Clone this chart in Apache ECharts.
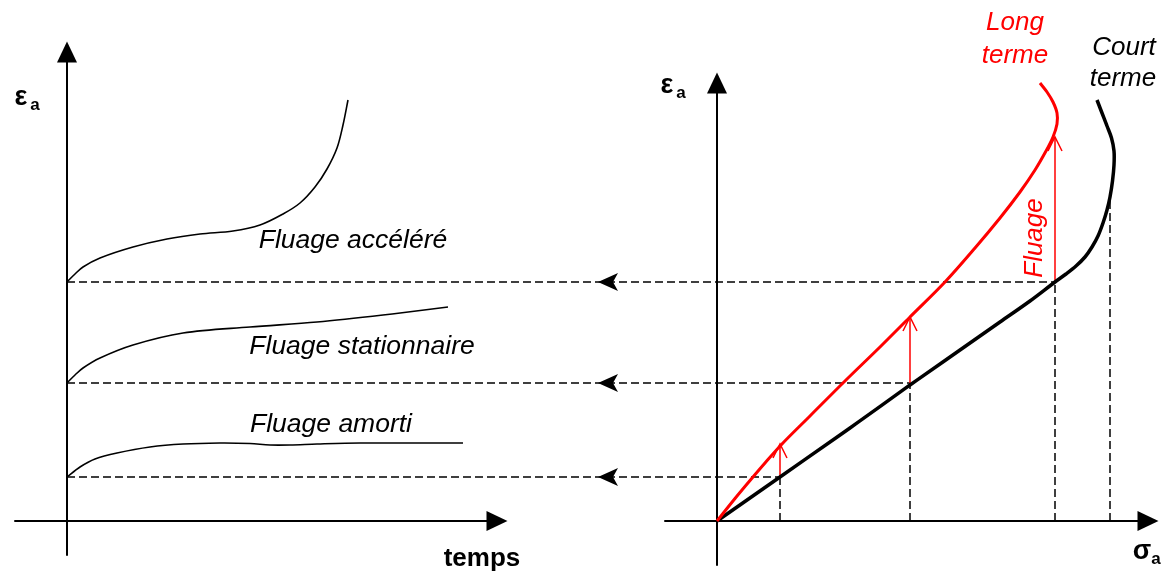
<!DOCTYPE html>
<html><head><meta charset="utf-8">
<script src="https://cdn.jsdelivr.net/npm/echarts@6/dist/echarts.min.js"></script>
<style>html,body{margin:0;padding:0;background:#fff}#c{width:1164px;height:571px}</style>
</head><body><div id="c"></div>
<script>
// ---- Data (arbitrary units) ----
// strain levels (εa) of the three creep tests
const strainLevels = [4.4, 13.8, 23.9];
// stress (σa) applied for each test (meets short-term curve)
const testStress = [6.3, 19.3, 33.8];
// long-term strain reached at each test stress
const longTermStrain = [7.7, 20.4, 38.4];
// short-term failure point (dashed vertical)
const ruptureStress = 39.3;
const ruptureStrain = 32.4;

// left panel: strain vs time
const amortiT = [0, 1.3, 2.8, 5.0, 8.3, 11.6, 15.3, 18.3, 20.3, 22.3, 25.0, 29.3, 39.6];
const amortiE = [4.4, 5.4, 6.2, 6.8, 7.4, 7.7, 7.8, 7.75, 7.6, 7.6, 7.7, 7.8, 7.8];
const stationT = [0, 0.8, 1.6, 3.3, 6.6, 11.6, 18.3, 25.0, 31.6, 38.1];
const stationE = [13.8, 14.6, 15.3, 16.3, 17.6, 18.8, 19.4, 19.9, 20.6, 21.4];
const accelT = [0, 0.8, 1.6, 3.3, 6.6, 10.0, 13.3, 16.6, 19.3, 21.6, 23.3, 24.8, 26.0, 27.0, 27.6, 28.1];
const accelE = [23.9, 24.7, 25.4, 26.3, 27.4, 28.2, 28.7, 29.0, 29.6, 30.7, 31.8, 33.4, 35.2, 37.3, 39.6, 42.1];

// right panel: strain vs stress
const courtS = [0, 6.3, 13.3, 19.3, 24.3, 28.3, 31.3, 33.8, 34.9, 35.9, 36.8, 37.5, 38.1, 38.6, 39.0, 39.3, 39.55, 39.7, 39.7, 39.45, 39.0, 38.5, 38.0];
const courtE = [0, 4.4, 9.3, 13.6, 17.1, 19.9, 22.0, 23.9, 24.7, 25.5, 26.4, 27.4, 28.5, 29.8, 31.1, 32.4, 34.0, 35.6, 37.0, 38.3, 39.5, 40.8, 42.1];
const longS = [0, 1.8, 3.3, 4.8, 6.5, 9.3, 12.8, 16.3, 19.3, 22.8, 25.8, 28.3, 30.3, 31.8, 32.9, 33.6, 34.0, 34.0, 33.6, 33.0, 32.3];
const longE = [0, 2.25, 4.05, 5.8, 7.7, 10.5, 14.0, 17.4, 20.4, 23.9, 27.3, 30.3, 32.9, 35.1, 37.0, 38.4, 39.7, 40.8, 41.9, 42.9, 43.8];

// ---- Chart ----
const FONT = '"Liberation Sans", Arial, sans-serif';
const chart = echarts.init(document.getElementById('c'), null, { renderer: 'canvas' });

const axisBase = {
  type: 'value', axisTick: { show: false }, axisLabel: { show: false }, splitLine: { show: false },
  axisLine: { show: true, onZero: true, symbol: ['none', 'triangle'], symbolSize: [20, 21],
    lineStyle: { color: '#000', width: 2 } }
};

// smooth path through pixel points (chord-length Hermite)
function splinePath(pts) {
  const n = pts.length, tan = [];
  for (let i = 0; i < n; i++) {
    const a = pts[Math.max(i - 1, 0)], b = pts[Math.min(i + 1, n - 1)];
    const dx = b[0] - a[0], dy = b[1] - a[1], l = Math.hypot(dx, dy) || 1;
    tan.push([dx / l, dy / l]);
  }
  let d = 'M' + pts[0][0] + ',' + pts[0][1];
  for (let i = 0; i < n - 1; i++) {
    const p = pts[i], q = pts[i + 1], L = Math.hypot(q[0] - p[0], q[1] - p[1]) / 3;
    d += ' C' + (p[0] + tan[i][0] * L) + ',' + (p[1] + tan[i][1] * L) + ' ' +
      (q[0] - tan[i + 1][0] * L) + ',' + (q[1] - tan[i + 1][1] * L) + ' ' + q[0] + ',' + q[1];
  }
  return d;
}
const curve = (xs, ys, gi, color, width) => ({
  type: 'custom', xAxisIndex: gi, yAxisIndex: gi, z: 4, clip: false,
  data: xs.map((x, i) => [x, ys[i]]),
  renderItem: (params, api) => {
    if (params.dataIndex !== 0) return null;
    const pts = xs.map((x, i) => api.coord([x, ys[i]]));
    return { type: 'path', shape: { pathData: splinePath(pts) },
      style: { stroke: color, lineWidth: width, fill: null, lineJoin: 'round', lineCap: 'butt' } };
  }
});

chart.setOption({
  animation: false,
  backgroundColor: '#fff',
  grid: [
    { left: 15, top: 52, width: 482, height: 503 },
    { left: 665, top: 83, width: 483, height: 482 }
  ],
  xAxis: [
    Object.assign({}, axisBase, { gridIndex: 0, min: -5.2, max: 43.0 }),
    Object.assign({}, axisBase, { gridIndex: 1, min: -5.2, max: 43.1 })
  ],
  yAxis: [
    Object.assign({}, axisBase, { gridIndex: 0, min: -3.4, max: 46.9 }),
    Object.assign({}, axisBase, { gridIndex: 1, min: -4.4, max: 43.8 })
  ],
  series: [
    curve(amortiT, amortiE, 0, '#000', 1.6),
    curve(stationT, stationE, 0, '#000', 1.6),
    curve(accelT, accelE, 0, '#000', 1.6),
    curve(courtS, courtE, 1, '#000', 3.5),
    curve(longS, longE, 1, '#ff0000', 3),
    { // dashed verticals on the stress axis
      type: 'custom', xAxisIndex: 1, yAxisIndex: 1, z: 2,
      data: testStress.map((s, i) => [s, strainLevels[i]]).concat([[ruptureStress, ruptureStrain]]),
      renderItem: (p, api) => {
        const a = api.coord([api.value(0), 0]);
        const b = api.coord([api.value(0), api.value(1)]);
        return { type: 'line', shape: { x1: a[0], y1: a[1], x2: b[0], y2: b[1] },
          style: { stroke: '#000', lineWidth: 1.5, lineDash: [8, 4] } };
      }
    },
    { // red creep arrows
      type: 'custom', xAxisIndex: 1, yAxisIndex: 1, z: 3,
      data: testStress.map((s, i) => [s, strainLevels[i], longTermStrain[i]]),
      renderItem: (p, api) => {
        const a = api.coord([api.value(0), api.value(1)]);
        const b = api.coord([api.value(0), api.value(2)]);
        return { type: 'group', children: [
          { type: 'line', shape: { x1: a[0], y1: a[1], x2: b[0], y2: b[1] },
            style: { stroke: '#ff0000', lineWidth: 1.5 } },
          { type: 'polyline', shape: { points: [[b[0] - 7, b[1] + 14], [b[0], b[1]], [b[0] + 7, b[1] + 14]] },
            style: { stroke: '#ff0000', lineWidth: 1.5, fill: null } }
        ] };
      }
    }
  ]
});

// horizontal dashed connectors between the two panels
const graphics = [];
strainLevels.forEach((e, i) => {
  const pl = chart.convertToPixel({ gridIndex: 0 }, [0, e]);
  const pr = chart.convertToPixel({ gridIndex: 1 }, [testStress[i], e]);
  const y = pl[1];
  graphics.push({ type: 'line', z: 1, shape: { x1: pl[0], y1: y, x2: pr[0], y2: y },
    style: { stroke: '#000', lineWidth: 1.5, lineDash: [8, 4] } });
  const tx = 598;
  graphics.push({ type: 'polygon', z: 2, shape: { points: [[tx, y], [tx + 20, y - 9], [tx + 15, y], [tx + 20, y + 9]] },
    style: { fill: '#000' } });
});
const txt = (x, y, text, font, fill, extra) => Object.assign({ type: 'text', x, y, z: 10,
  style: { text, font, fill: fill || '#000', align: 'center', verticalAlign: 'middle' } }, extra || {});
const B = (s) => 'bold ' + s + 'px ' + FONT;
const I = (s) => 'italic ' + s + 'px ' + FONT;
graphics.push(
  txt(21, 98, 'ε', B(27)), txt(35, 105, 'a', B(17)),
  txt(667, 86, 'ε', B(27)), txt(681, 93, 'a', B(17)),
  txt(482, 559, 'temps', B(26)),
  txt(1142, 552, 'σ', B(27)), txt(1156, 559, 'a', B(17)),
  txt(353, 241, 'Fluage accéléré', I(26.5)),
  txt(362, 347, 'Fluage stationnaire', I(26.5)),
  txt(331, 425, 'Fluage amorti', I(26.5)),
  txt(1015, 23, 'Long', I(26), '#ff0000'), txt(1015, 56, 'terme', I(26), '#ff0000'),
  txt(1124, 48, 'Court', I(26)), txt(1123, 79, 'terme', I(26)),
  txt(1035, 238, 'Fluage', I(26), '#ff0000', { rotation: Math.PI / 2 })
);
chart.setOption({ graphic: graphics });
</script></body></html>
